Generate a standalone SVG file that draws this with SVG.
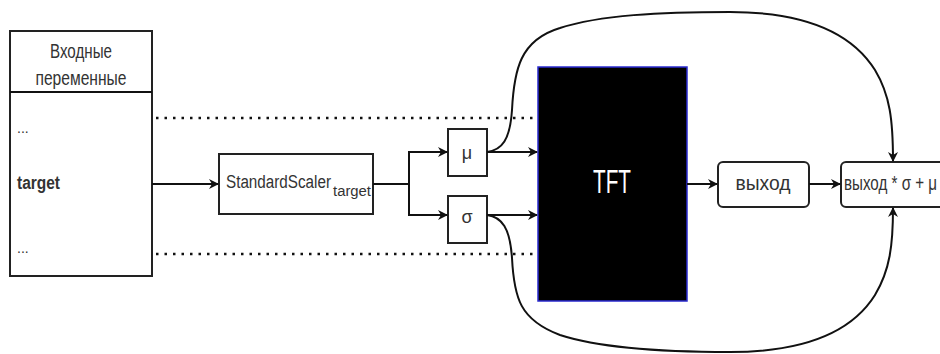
<svg xmlns="http://www.w3.org/2000/svg" width="940" height="354" viewBox="0 0 940 354">
<style>
.box{fill:#fff;stroke:#222;stroke-width:2}
.ln{fill:none;stroke:#111;stroke-width:2}
.dot{fill:none;stroke:#111;stroke-width:2.5;stroke-dasharray:2.5 6}
.t{font-family:"Liberation Sans",Arial,sans-serif;fill:#333}
</style>
<defs>
<marker id="ah" viewBox="0 0 10 10" refX="9" refY="5" markerWidth="10" markerHeight="10" markerUnits="userSpaceOnUse" orient="auto">
<path d="M0,0 L10,5 L0,10 L3,5 z" fill="#111"/>
</marker>
</defs>
<rect width="940" height="354" fill="#fff"/>

<g id="inputs">
<rect class="box" x="10" y="31" width="142" height="245"/>
<line class="ln" x1="10" y1="92" x2="152" y2="92"/>
<text class="t" x="81" y="58" font-size="20" text-anchor="middle" textLength="62" lengthAdjust="spacingAndGlyphs">Входные</text>
<text class="t" x="81" y="85" font-size="20" text-anchor="middle" textLength="91" lengthAdjust="spacingAndGlyphs">переменные</text>
<text class="t" x="17" y="133" font-size="14">...</text>
<text class="t" x="17" y="189" font-size="18" font-weight="bold" fill="#111" textLength="43" lengthAdjust="spacingAndGlyphs">target</text>
<text class="t" x="17" y="253" font-size="14">...</text>
</g>

<g id="scaler">
<rect class="box" x="219" y="154" width="154" height="60"/>
<text class="t" x="226" y="188" font-size="18" textLength="105" lengthAdjust="spacingAndGlyphs">StandardScaler</text>
<text class="t" x="333" y="196" font-size="14" textLength="38" lengthAdjust="spacingAndGlyphs">target</text>
</g>

<g id="mu">
<rect class="box" x="448" y="129" width="39" height="47"/>
<text class="t" x="467" y="159" font-size="18" text-anchor="middle">μ</text>
</g>

<g id="sigma">
<rect class="box" x="448" y="196" width="39" height="47"/>
<text class="t" x="467" y="223" font-size="18" text-anchor="middle">σ</text>
</g>

<g id="tft">
<rect x="538" y="67" width="149" height="234" fill="#000" stroke="#2a2ad0" stroke-width="1.5"/>
<text x="612" y="193" font-family="'Liberation Sans',Arial,sans-serif" font-size="34" fill="#fff" text-anchor="middle" textLength="38" lengthAdjust="spacingAndGlyphs">TFT</text>
</g>

<g id="out">
<rect class="box" x="718" y="162" width="91" height="45" rx="5"/>
<text class="t" x="763" y="190" font-size="20" text-anchor="middle" textLength="55" lengthAdjust="spacingAndGlyphs">выход</text>
</g>

<g id="result">
<rect class="box" x="841" y="162" width="110" height="45" rx="5"/>
<text class="t" x="844" y="190" font-size="20" textLength="93" lengthAdjust="spacingAndGlyphs">выход * σ + μ</text>
</g>

<g id="connectors">
<line class="dot" x1="156" y1="118" x2="538" y2="118"/>
<line class="dot" x1="156" y1="254" x2="538" y2="254"/>
<line class="ln" x1="152" y1="184" x2="218" y2="184" marker-end="url(#ah)"/>
<polyline class="ln" points="373,184 409,184 409,152 447,152" marker-end="url(#ah)"/>
<polyline class="ln" points="409,184 409,215 447,215" marker-end="url(#ah)"/>
<line class="ln" x1="487" y1="152" x2="537" y2="152" marker-end="url(#ah)"/>
<line class="ln" x1="487" y1="215" x2="537" y2="215" marker-end="url(#ah)"/>
<line class="ln" x1="687" y1="184" x2="717" y2="184" marker-end="url(#ah)"/>
<line class="ln" x1="809" y1="184" x2="840" y2="184" marker-end="url(#ah)"/>
<path class="ln" d="M487,152 C502,150 510,140 512,110 C514,70 520,40 560,28 C600,15 660,12 730,12 C800,12 850,30 875,70 C890,95 893,120 893,161" stroke-width="1.6" marker-end="url(#ah)"/>
<path class="ln" d="M487,215 C502,217 510,228 512,258 C514,298 520,320 560,335 C600,348 660,352 730,352 C800,352 850,335 875,295 C890,270 893,245 893,208" stroke-width="1.6" marker-end="url(#ah)"/>
</g>
</svg>
